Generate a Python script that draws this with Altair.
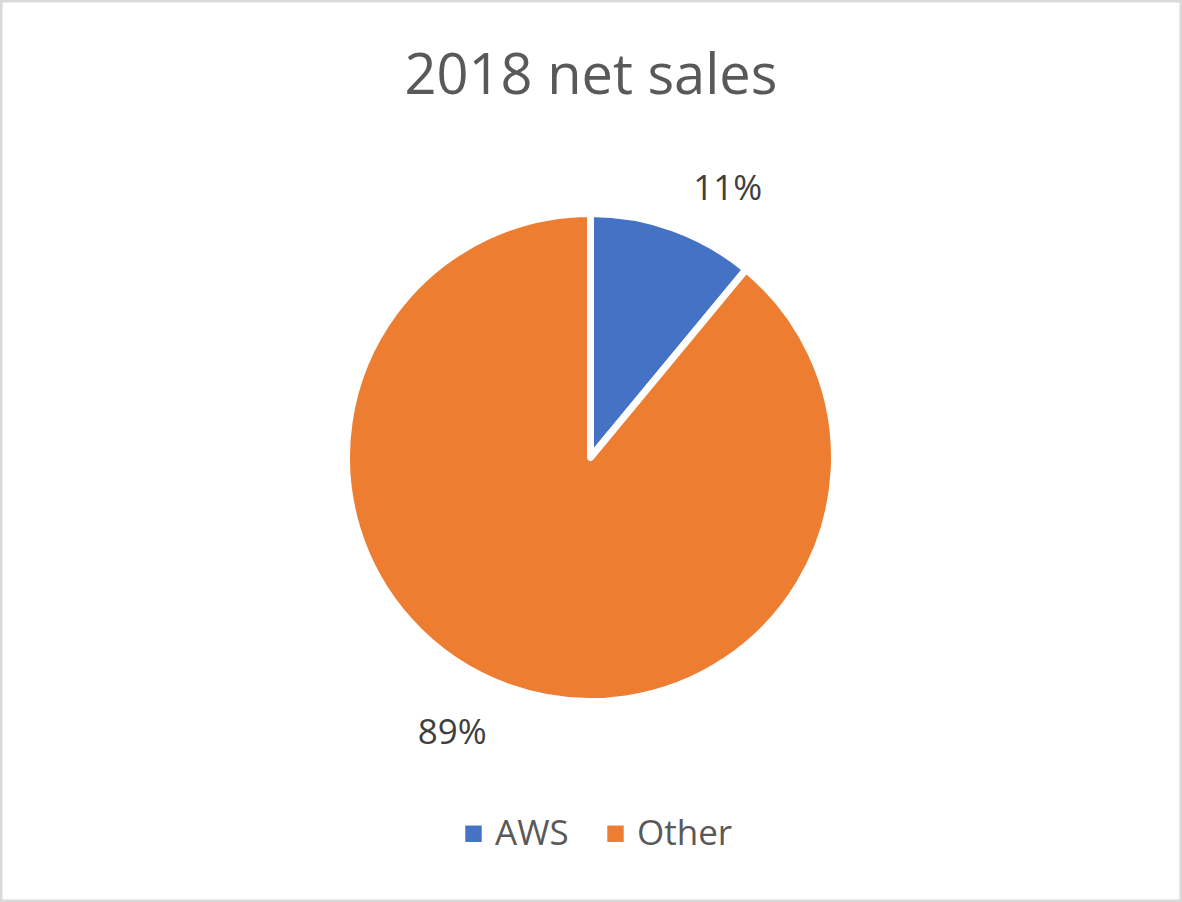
import altair as alt
import pandas as pd

categories = ["AWS", "Other"]
shares = [11, 89]
label_texts = ["11%", "89%"]
colors = ["#4472C4", "#ED7D31"]
title_text = "2018 net sales"

df = pd.DataFrame({
    "segment": categories,
    "share": shares,
    "label": label_texts,
    "order": list(range(len(categories))),
})

CX, CY = 590.5, 457.5
FONT = "Open Sans"

pie = alt.Chart(df).mark_arc(
    outerRadius=244, stroke="white", strokeWidth=7, strokeJoin="round"
).encode(
    theta=alt.Theta("share:Q", stack=True),
    order=alt.Order("order:Q"),
    color=alt.Color(
        "segment:N",
        scale=alt.Scale(domain=categories, range=colors),
        legend=alt.Legend(
            orient="none", legendX=456, legendY=816, direction="horizontal",
            title=None, symbolType="square", symbolSize=270, symbolStrokeWidth=0,
            labelFontSize=35, labelFont=FONT, labelColor="#595959",
            labelOffset=4, columnPadding=29, padding=0,
        ),
    ),
    x=alt.value(CX),
    y=alt.value(CY),
)

lab = alt.Chart(df).transform_stack(
    stack="share", groupby=[], as_=["s0", "s1"], sort=[alt.SortField("order")]
).transform_calculate(mid="(datum.s0 + datum.s1) / 2")

def label_layer(seg, dx, dy):
    return lab.transform_filter(f"datum.segment == '{seg}'").mark_text(
        radius=305, fontSize=35, font=FONT, color="#404040", dx=dx, dy=dy,
        align="center", baseline="middle",
    ).encode(
        theta=alt.Theta("mid:Q", scale=alt.Scale(domain=[0, 100])),
        text="label:N",
        x=alt.value(CX),
        y=alt.value(CY),
    )

chart = alt.layer(
    pie,
    label_layer("AWS", 34, 18),
    label_layer("Other", -35, -11),
).properties(
    width=1182, height=902,
    autosize=alt.AutoSizeParams(type="none"),
    padding=0,
    background="white",
    title=alt.TitleParams(
        title_text, fontSize=56, font=FONT, fontWeight="normal",
        color="#595959", anchor="middle", dy=110,
    ),
).configure_view(stroke="#D9D9D9", strokeWidth=5, fill="white")

chart.save("out.html", embed_options={"renderer": "svg", "actions": False})
